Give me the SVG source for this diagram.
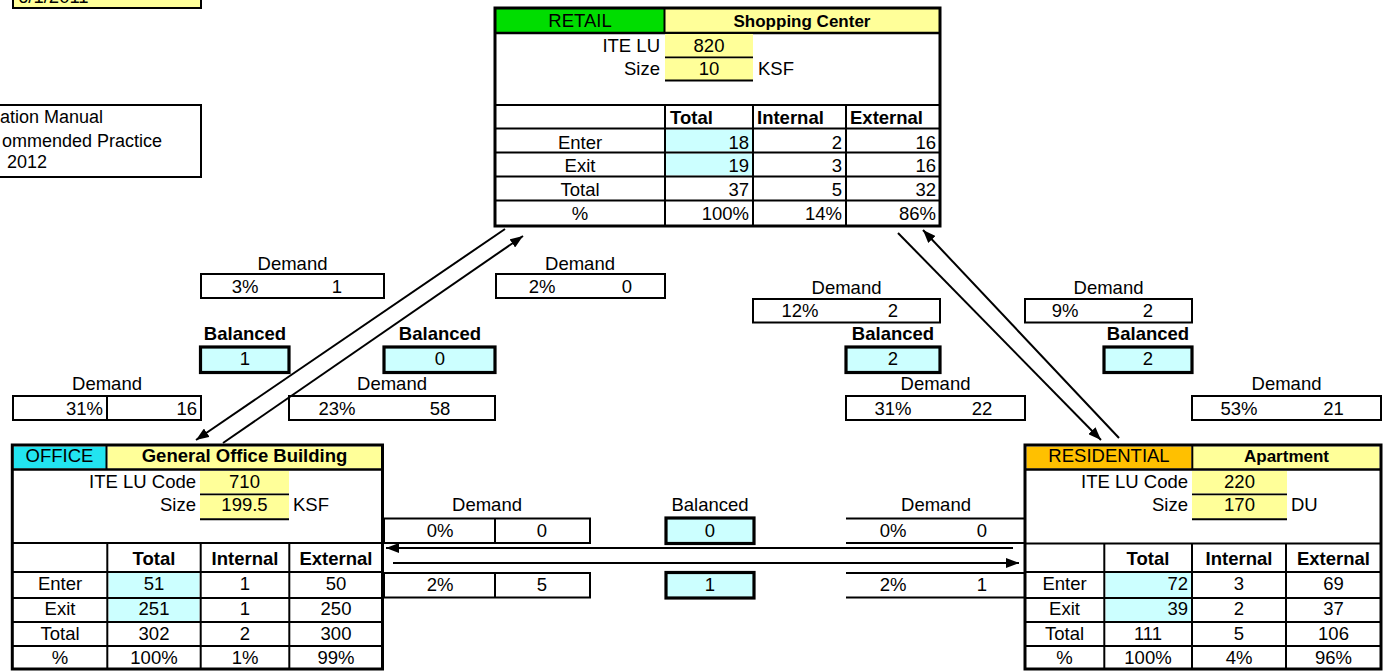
<svg xmlns="http://www.w3.org/2000/svg" width="1389" height="671" viewBox="0 0 1389 671">
<defs>
<style>
text{font-family:"Liberation Sans",Arial,sans-serif;font-size:18.5px;fill:#000}
.b{font-weight:bold}
.c{text-anchor:middle}
.r{text-anchor:end}
.s{font-size:17px}
.n{font-size:18px}
.ln{stroke:#000;stroke-width:2;fill:none}
.ob{stroke:#000;stroke-width:3;fill:none}
.dm{stroke:#000;stroke-width:2;fill:#fff}
.bal{stroke:#000;stroke-width:3.2;fill:#CCFFFF}
.yl{fill:#FFFF99}
.cy{fill:#CCFFFF}
.ar{stroke:#000;stroke-width:2;fill:none}
</style>
<marker id="ah" markerUnits="userSpaceOnUse" markerWidth="14" markerHeight="10" refX="13" refY="5" orient="auto">
<path d="M0,0 L13,5 L0,10 z" fill="#000"/>
</marker>
</defs>
<rect x="0" y="0" width="1389" height="671" fill="#fff"/>

<g id="note-date">
<rect x="13" y="-20" width="188" height="28" class="yl" stroke="#000" stroke-width="2"/>
<text x="18" y="3">6/1/2011</text>
</g>
<g id="note-source">
<rect x="-10" y="105" width="211" height="72" fill="#fff" stroke="#000" stroke-width="2"/>
<text class="n" x="0" y="123">ation Manual</text>
<text class="n" x="2" y="146.5">ommended Practice</text>
<text class="n" x="7" y="168">2012</text>
</g>

<g id="retail">
<rect x="495" y="8" width="445" height="218" fill="#fff"/>
<rect x="496" y="9" width="168" height="23" fill="#00DD00"/>
<rect x="665" y="9" width="274" height="23" class="yl"/>
<line x1="664.5" y1="8" x2="664.5" y2="33" class="ln"/>
<line x1="495" y1="33" x2="940" y2="33" stroke="#000" stroke-width="2.5"/>
<rect x="665" y="34" width="88" height="23" class="yl"/>
<line x1="665" y1="57.5" x2="753" y2="57.5" class="ln"/>
<rect x="665" y="58.5" width="88" height="21.5" class="yl"/>
<line x1="665" y1="80.5" x2="753" y2="80.5" class="ln"/>
<text class="c" x="580" y="27">RETAIL</text>
<text class="c b s" x="802" y="27">Shopping Center</text>
<text class="r" x="660" y="52">ITE LU</text>
<text class="c" x="709" y="52">820</text>
<text class="r" x="660" y="75">Size</text>
<text class="c" x="709" y="75">10</text>
<text x="758" y="75">KSF</text>
<rect x="666" y="129.5" width="86" height="22" class="cy"/>
<rect x="666" y="153.5" width="86" height="22" class="cy"/>
<g class="ln">
<line x1="495" y1="105" x2="940" y2="105"/>
<line x1="495" y1="128.5" x2="940" y2="128.5"/>
<line x1="495" y1="152.5" x2="940" y2="152.5"/>
<line x1="495" y1="176.5" x2="940" y2="176.5"/>
<line x1="495" y1="200.5" x2="940" y2="200.5"/>
<line x1="665" y1="105" x2="665" y2="226"/>
<line x1="753" y1="105" x2="753" y2="226"/>
<line x1="846" y1="105" x2="846" y2="226"/>
</g>
<text class="b" x="670" y="124">Total</text>
<text class="b" x="757" y="124">Internal</text>
<text class="b" x="850" y="124">External</text>
<text class="c" x="580" y="148.5">Enter</text>
<text class="c" x="580" y="172">Exit</text>
<text class="c" x="580" y="196">Total</text>
<text class="c" x="580" y="220">%</text>
<text class="r" x="749" y="148.5">18</text>
<text class="r" x="842" y="148.5">2</text>
<text class="r" x="936" y="148.5">16</text>
<text class="r" x="749" y="172">19</text>
<text class="r" x="842" y="172">3</text>
<text class="r" x="936" y="172">16</text>
<text class="r" x="749" y="196">37</text>
<text class="r" x="842" y="196">5</text>
<text class="r" x="936" y="196">32</text>
<text class="r" x="749" y="220">100%</text>
<text class="r" x="842" y="220">14%</text>
<text class="r" x="936" y="220">86%</text>
<rect x="495" y="8" width="445" height="218" class="ob"/>
</g>

<g id="office">
<rect x="12" y="445" width="370.5" height="224" fill="#fff"/>
<rect x="13.5" y="446.5" width="92.5" height="22" fill="#22E4F0"/>
<rect x="107.5" y="446.5" width="273.5" height="22" class="yl"/>
<line x1="106.5" y1="445" x2="106.5" y2="469" class="ln"/>
<line x1="12" y1="469.5" x2="382.5" y2="469.5" stroke="#000" stroke-width="2.5"/>
<rect x="200" y="471" width="89" height="22.5" class="yl"/>
<line x1="200" y1="494.5" x2="289" y2="494.5" class="ln"/>
<rect x="200" y="495.5" width="89" height="23" class="yl"/>
<line x1="200" y1="519.3" x2="289" y2="519.3" class="ln"/>
<text class="c" x="59.5" y="462">OFFICE</text>
<text class="c b" x="244.5" y="462">General Office Building</text>
<text class="r" x="196" y="488">ITE LU Code</text>
<text class="c" x="244.5" y="488">710</text>
<text class="r" x="196" y="511">Size</text>
<text class="c" x="244.5" y="511">199.5</text>
<text x="293" y="511">KSF</text>
<rect x="108.5" y="573" width="91" height="24" class="cy"/>
<rect x="108.5" y="599" width="91" height="22" class="cy"/>
<g class="ln">
<line x1="12" y1="543" x2="382.5" y2="543"/>
<line x1="12" y1="572" x2="382.5" y2="572"/>
<line x1="12" y1="598" x2="382.5" y2="598"/>
<line x1="12" y1="622" x2="382.5" y2="622"/>
<line x1="12" y1="646" x2="382.5" y2="646"/>
<line x1="107.3" y1="543" x2="107.3" y2="669"/>
<line x1="200.7" y1="543" x2="200.7" y2="669"/>
<line x1="289.3" y1="543" x2="289.3" y2="669"/>
</g>
<text class="c b" x="154" y="565">Total</text>
<text class="c b" x="245" y="565">Internal</text>
<text class="c b" x="336" y="565">External</text>
<text class="c" x="60" y="590">Enter</text>
<text class="c" x="60" y="615">Exit</text>
<text class="c" x="60" y="640">Total</text>
<text class="c" x="60" y="664">%</text>
<text class="c" x="154" y="590">51</text>
<text class="c" x="245" y="590">1</text>
<text class="c" x="336" y="590">50</text>
<text class="c" x="154" y="615">251</text>
<text class="c" x="245" y="615">1</text>
<text class="c" x="336" y="615">250</text>
<text class="c" x="154" y="640">302</text>
<text class="c" x="245" y="640">2</text>
<text class="c" x="336" y="640">300</text>
<text class="c" x="154" y="664">100%</text>
<text class="c" x="245" y="664">1%</text>
<text class="c" x="336" y="664">99%</text>
<rect x="12.3" y="445" width="370.2" height="224" class="ob"/>
</g>

<g id="residential">
<rect x="1025" y="445" width="356" height="224" fill="#fff"/>
<rect x="1026.5" y="446.5" width="165" height="22" fill="#FFC000"/>
<rect x="1193" y="446.5" width="186.5" height="22" class="yl"/>
<line x1="1192.3" y1="445" x2="1192.3" y2="469" class="ln"/>
<line x1="1025" y1="469.5" x2="1381" y2="469.5" stroke="#000" stroke-width="2.5"/>
<rect x="1192" y="471" width="95" height="22.5" class="yl"/>
<line x1="1192" y1="494.5" x2="1287" y2="494.5" class="ln"/>
<rect x="1192" y="495.5" width="95" height="23" class="yl"/>
<line x1="1192" y1="519.3" x2="1287" y2="519.3" class="ln"/>
<text class="c" x="1109" y="462">RESIDENTIAL</text>
<text class="c b s" x="1286.5" y="462">Apartment</text>
<text class="r" x="1188" y="488">ITE LU Code</text>
<text class="c" x="1239.5" y="488">220</text>
<text class="r" x="1188" y="511">Size</text>
<text class="c" x="1239.5" y="511">170</text>
<text x="1291" y="511">DU</text>
<rect x="1105.5" y="573" width="85.5" height="24" class="cy"/>
<rect x="1105.5" y="599" width="85.5" height="22" class="cy"/>
<g class="ln">
<line x1="1025" y1="543.5" x2="1381" y2="543.5"/>
<line x1="1025" y1="572" x2="1381" y2="572"/>
<line x1="1025" y1="598" x2="1381" y2="598"/>
<line x1="1025" y1="622" x2="1381" y2="622"/>
<line x1="1025" y1="646" x2="1381" y2="646"/>
<line x1="1104.3" y1="543" x2="1104.3" y2="669"/>
<line x1="1192" y1="543" x2="1192" y2="669"/>
<line x1="1286" y1="543" x2="1286" y2="669"/>
</g>
<text class="c b" x="1148" y="565">Total</text>
<text class="c b" x="1239" y="565">Internal</text>
<text class="c b" x="1333.5" y="565">External</text>
<text class="c" x="1064.5" y="590">Enter</text>
<text class="c" x="1064.5" y="615">Exit</text>
<text class="c" x="1064.5" y="640">Total</text>
<text class="c" x="1064.5" y="664">%</text>
<text class="r" x="1188" y="590">72</text>
<text class="c" x="1239" y="590">3</text>
<text class="c" x="1333.5" y="590">69</text>
<text class="r" x="1188" y="615">39</text>
<text class="c" x="1239" y="615">2</text>
<text class="c" x="1333.5" y="615">37</text>
<text class="c" x="1148" y="640">111</text>
<text class="c" x="1239" y="640">5</text>
<text class="c" x="1333.5" y="640">106</text>
<text class="c" x="1148" y="664">100%</text>
<text class="c" x="1239" y="664">4%</text>
<text class="c" x="1333.5" y="664">96%</text>
<rect x="1025" y="445" width="356" height="224" class="ob"/>
</g>

<g id="demand-office-to-retail">
<text class="c" x="292.5" y="270">Demand</text>
<rect x="201" y="274" width="183" height="24" class="dm"/>
<text class="c" x="245" y="293">3%</text>
<text class="c" x="337" y="293">1</text>
</g>
<g id="demand-retail-from-office">
<text class="c" x="580" y="270">Demand</text>
<rect x="496" y="274" width="169" height="24" class="dm"/>
<text class="c" x="542" y="293">2%</text>
<text class="c" x="627" y="293">0</text>
</g>
<g id="balanced-office-to-retail">
<text class="c b" x="245" y="340">Balanced</text>
<rect x="200.5" y="347" width="88.5" height="25.5" class="bal"/>
<text class="c" x="245" y="365">1</text>
</g>
<g id="balanced-retail-to-office">
<text class="c b" x="440" y="340">Balanced</text>
<rect x="384" y="347" width="111" height="25.5" class="bal"/>
<text class="c" x="440" y="365">0</text>
</g>
<g id="demand-office-from-retail">
<text class="c" x="107" y="390">Demand</text>
<rect x="13" y="396" width="188" height="24" class="dm"/>
<line x1="107" y1="396" x2="107" y2="420" class="ln"/>
<text class="r" x="103" y="415">31%</text>
<text class="r" x="197" y="415">16</text>
</g>
<g id="demand-retail-to-office">
<text class="c" x="392" y="390">Demand</text>
<rect x="289" y="396" width="206" height="24" class="dm"/>
<text class="c" x="337" y="415">23%</text>
<text class="c" x="440" y="415">58</text>
</g>

<g id="demand-retail-to-residential">
<text class="c" x="846.5" y="293.5">Demand</text>
<rect x="753" y="299" width="187" height="23.5" class="dm"/>
<text class="c" x="800" y="317">12%</text>
<text class="c" x="893" y="317">2</text>
</g>
<g id="demand-residential-from-retail">
<text class="c" x="1108.5" y="293.5">Demand</text>
<rect x="1025" y="299" width="167" height="23.5" class="dm"/>
<text class="c" x="1065" y="317">9%</text>
<text class="c" x="1148" y="317">2</text>
</g>
<g id="balanced-retail-to-residential">
<text class="c b" x="893" y="340">Balanced</text>
<rect x="846" y="347" width="94" height="25.5" class="bal"/>
<text class="c" x="893" y="365">2</text>
</g>
<g id="balanced-residential-to-retail">
<text class="c b" x="1148" y="340">Balanced</text>
<rect x="1104" y="347" width="88" height="25.5" class="bal"/>
<text class="c" x="1148" y="365">2</text>
</g>
<g id="demand-retail-from-residential">
<text class="c" x="935.5" y="390">Demand</text>
<rect x="846" y="396" width="179" height="24" class="dm"/>
<text class="c" x="893" y="415">31%</text>
<text class="c" x="982" y="415">22</text>
</g>
<g id="demand-residential-to-retail">
<text class="c" x="1286.5" y="390">Demand</text>
<rect x="1192" y="396" width="189" height="24" class="dm"/>
<text class="c" x="1239" y="415">53%</text>
<text class="c" x="1333.5" y="415">21</text>
</g>

<g id="demand-office-residential">
<text class="c" x="487" y="511">Demand</text>
<rect x="384" y="518.5" width="206" height="24.5" class="dm"/>
<line x1="495" y1="518.5" x2="495" y2="543" class="ln"/>
<text class="c" x="440" y="537">0%</text>
<text class="c" x="542" y="537">0</text>
<rect x="384" y="573" width="206" height="24.5" class="dm"/>
<line x1="495" y1="573" x2="495" y2="597.5" class="ln"/>
<text class="c" x="440" y="591">2%</text>
<text class="c" x="542" y="591">5</text>
</g>
<g id="balanced-office-residential">
<text class="c" x="710" y="511">Balanced</text>
<rect x="666" y="518" width="88" height="25.5" class="bal"/>
<text class="c" x="710" y="537">0</text>
<rect x="666" y="572.5" width="88" height="25.5" class="bal"/>
<text class="c" x="710" y="591">1</text>
</g>
<g id="demand-residential-office">
<text class="c" x="936" y="511">Demand</text>
<g class="ln">
<line x1="846" y1="518.5" x2="1025" y2="518.5"/>
<line x1="846" y1="543" x2="1025" y2="543"/>
<line x1="846" y1="573" x2="1025" y2="573"/>
<line x1="846" y1="597.5" x2="1025" y2="597.5"/>
</g>
<text class="c" x="893" y="537">0%</text>
<text class="c" x="982" y="537">0</text>
<text class="c" x="893" y="591">2%</text>
<text class="c" x="982" y="591">1</text>
</g>

<g id="connectors">
<line x1="505" y1="229" x2="196" y2="440" class="ar" marker-end="url(#ah)"/>
<line x1="223" y1="443" x2="523" y2="236" class="ar" marker-end="url(#ah)"/>
<line x1="898" y1="233" x2="1101" y2="440" class="ar" marker-end="url(#ah)"/>
<line x1="1119" y1="438" x2="923" y2="230" class="ar" marker-end="url(#ah)"/>
<line x1="1013" y1="548" x2="386" y2="548" class="ar" marker-end="url(#ah)"/>
<line x1="393" y1="563" x2="1019" y2="563" class="ar" marker-end="url(#ah)"/>
</g>
</svg>
